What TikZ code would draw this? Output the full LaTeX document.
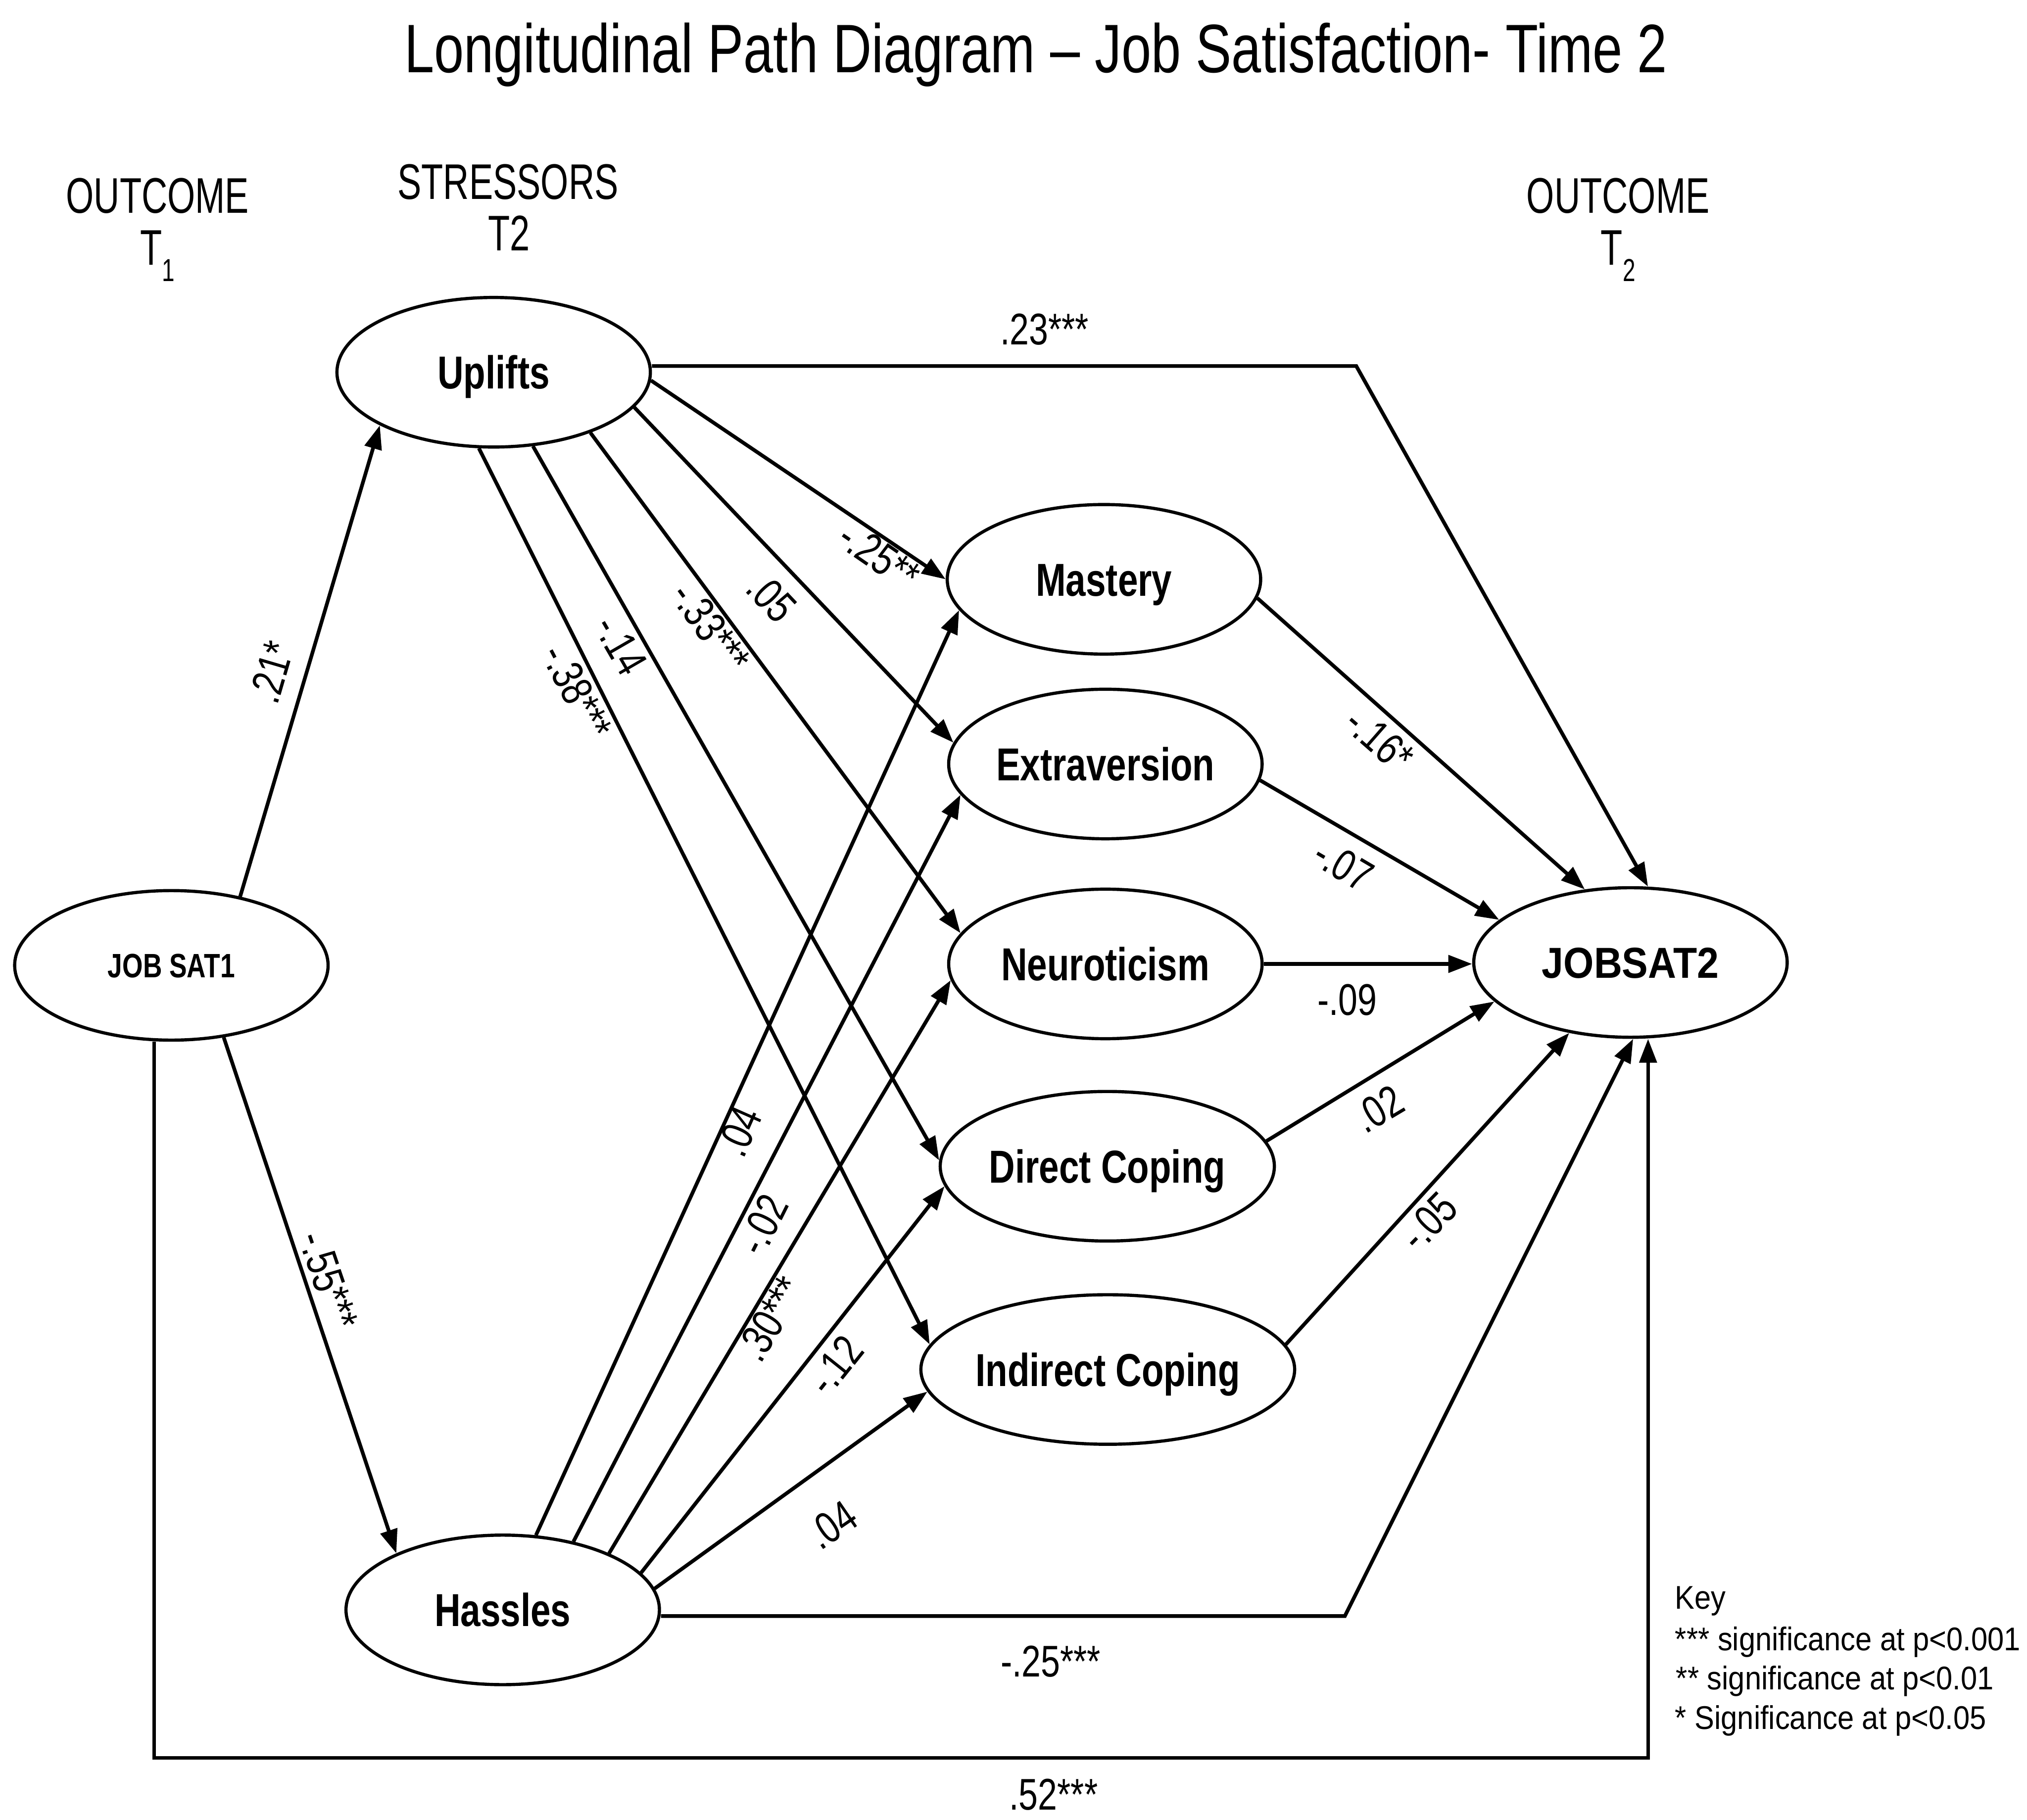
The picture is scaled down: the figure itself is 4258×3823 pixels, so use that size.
\documentclass[tikz,border=0pt]{standalone}
\usepackage{fontspec}
\setmainfont{Liberation Sans}
\newfontfamily\condfont[FakeStretch=0.78]{Liberation Sans}
\newfontfamily\headfont[FakeStretch=0.715]{Liberation Sans}
\newfontfamily\keyfont[FakeStretch=0.90]{Liberation Sans}
\usetikzlibrary{arrows.meta,shapes.geometric}
\newcommand\lowsub[1]{\raisebox{-0.32em}{\fontsize{19}{19}\selectfont #1}}

\begin{document}
\begin{tikzpicture}[x=0.01cm,y=-0.01cm,
  var/.style={ellipse,draw,line width=1.9pt,minimum width=6.58cm,minimum height=3.14cm,
    inner sep=0pt,text height=19.8pt,text depth=0pt,
    font=\condfont\bfseries\fontsize{27.6}{30}\selectfont},
  path/.style={line width=2.2pt,-{Triangle[length=0.5cm,width=0.36cm]}},
  coef/.style={font=\condfont\fontsize{26.5}{28}\selectfont,inner sep=0pt},
  hdr/.style={font=\headfont\fontsize{29.9}{34}\selectfont,inner sep=0pt,anchor=base},
  keyline/.style={font=\keyfont\fontsize{19.6}{22}\selectfont,inner sep=0pt,anchor=base west},
]
\useasboundingbox (0,0) rectangle (4258,3823);

% title and column headings
\node[font=\condfont\fontsize{41}{46}\selectfont,inner sep=0pt,anchor=base] (title) at (2176,152)
  {Longitudinal Path Diagram – Job Satisfaction- Time 2};
\node[hdr] (out1) at (331,447) {OUTCOME};
\node[hdr] (out1t) at (331,557) {T\lowsub{1}};
\node[hdr] (str) at (1067,418) {STRESSORS};
\node[hdr] (strt) at (1069,527) {T2};
\node[hdr] (out2) at (3399,447) {OUTCOME};
\node[hdr] (out2t) at (3399,557) {T\lowsub{2}};

% variables
\node[var] (uplifts) at (1037,782) {Uplifts};
\node[var,text height=14.5pt,font=\condfont\bfseries\fontsize{20.2}{22}\selectfont] (jobsat1) at (360,2028) {JOB SAT1};
\node[var] (hassles) at (1056,3382) {Hassles};
\node[var] (mastery) at (2319,1217) {Mastery};
\node[var] (extra) at (2322,1605) {Extraversion};
\node[var] (neuro) at (2322,2025) {Neuroticism};
\node[var] (direct) at (2326,2450) {Direct Coping};
\node[var] (indirect) at (2327,2877) {Indirect Coping};
\node[var,text height=18.5pt,font=\keyfont\bfseries\fontsize{25.9}{28}\selectfont] (jobsat2) at (3425,2022) {JOBSAT2};

% corners of the routed paths
\coordinate (ucorner) at (2849,769);
\coordinate (hcorner) at (2825,3395);
\coordinate (bl) at (324,3693);
\coordinate (br) at (3462,3693);

% outcome T1 to stressors
\draw[path] (jobsat1.45.4) -- (uplifts.205);
\draw[path] (jobsat1.-54.5) -- (hassles.152.4);

% uplifts to personality and coping
\draw[path] (uplifts.-3) -- (mastery.west);
\draw[path] (uplifts.-14) -- (extra.172);
\draw[path] (uplifts.-32) -- (neuro.168);
\draw[path] (uplifts.-62.5) -- (direct.178);
\draw[path] (uplifts.-101) -- (indirect.172);

% hassles to personality and coping
\draw[path] (hassles.66) -- (mastery.192.5);
\draw[path] (hassles.44) -- (extra.192.5);
\draw[path] (hassles.28) -- (neuro.186.7);
\draw[path] (hassles.15) -- (direct.187.5);
\draw[path] (hassles.8) -- (indirect.187);

% personality and coping to outcome T2
\draw[path] (mastery.-7) -- (jobsat2.122.7);
\draw[path] (extra.-6) -- (jobsat2.162.3);
\draw[path] (neuro.east) -- (neuro.east -| jobsat2.west);
\draw[path] (direct.9.3) -- (jobsat2.196.4);
\draw[path] (indirect.8.2) -- (jobsat2.229.8);

% direct paths to outcome T2
\draw[path] (uplifts.east |- ucorner) -- (ucorner) -- (jobsat2.77.6);
\draw[path] (hassles.east |- hcorner) -- (hcorner) -- (jobsat2.-88);
\draw[path] (bl |- jobsat1.south) -- (bl) -- (br) -- (br |- jobsat2.south);

% path coefficients
\node[coef,rotate=73.7] (c21) at (570,1412) {.21*};
\node[coef,rotate=-71.1] (c55) at (690,2690) {-.55***};
\node[coef] (c23) at (2194,692) {.23***};
\node[coef,rotate=-34.6] (c25a) at (1847,1168) {-.25**};
\node[coef,rotate=-46.6] (c05a) at (1621,1255) {.05};
\node[coef,rotate=-54] (c33) at (1493,1318) {-.33***};
\node[coef,rotate=-60] (c14) at (1304,1355) {-.14};
\node[coef,rotate=-62.5] (c38) at (1212,1453) {-.38***};
\node[coef,rotate=66.2] (c04a) at (1553,2377) {.04};
\node[coef,rotate=63.4] (c02a) at (1602,2573) {-.02};
\node[coef,rotate=59.2] (c30) at (1618,2770) {.30***};
\node[coef,rotate=51.4] (c12) at (1754,2868) {-.12};
\node[coef,rotate=34.5] (c04b) at (1748,3203) {.04};
\node[coef] (c25b) at (2207,3490) {-.25***};
\node[coef] (c52) at (2213,3770) {.52***};
\node[coef,rotate=-41.2] (c16) at (2898,1554) {-.16*};
\node[coef,rotate=-30.5] (c07) at (2822,1817) {-.07};
\node[coef] (c09) at (2830,2100) {-.09};
\node[coef,rotate=30.8] (c02b) at (2896,2330) {.02};
\node[coef,rotate=45.6] (c05b) at (3001,2566) {-.05};

% key
\node[keyline] (key) at (3518,3380) {Key};
\node[keyline] (key3) at (3518,3467) {*** significance at p<0.001};
\node[keyline] (key2) at (3520,3550) {** significance at p<0.01};
\node[keyline] (key1) at (3518,3633) {* Significance at p<0.05};
\end{tikzpicture}
\end{document}
